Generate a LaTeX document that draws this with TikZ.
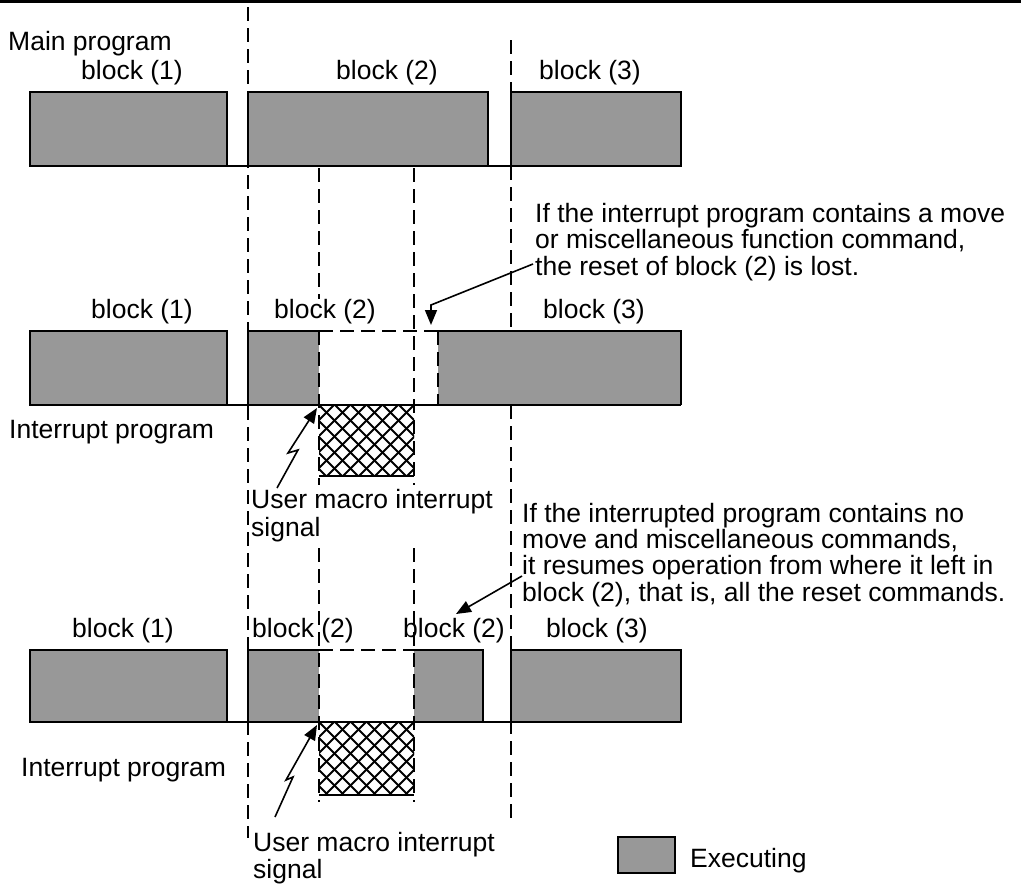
\documentclass[tikz,border=0pt]{standalone}
\usepackage{fontspec}
\setmainfont{Liberation Sans}
\usetikzlibrary{arrows.meta}
\definecolor{execgray}{RGB}{152,152,152}
\tikzset{
  lbl/.style={font=\fontsize{26.5}{26.5}\selectfont, inner sep=0pt, anchor=base},
  lblw/.style={lbl, anchor=base west, align=left},
  dsh/.style={line width=1.8pt, dash pattern=on 14pt off 7pt},
  edgeline/.style={line width=1.6pt},
  baseln/.style={line width=2pt},
  execfill/.style={fill=execgray},
  arr/.style={line width=1.6pt, -{Triangle[length=15pt,width=12pt]}},
}
\newcommand\myxhatch[4]{%
  \begin{scope}
    \clip (#1,#2) rectangle (#3,#4);
    \fill[white] (#1,#2) rectangle (#3,#4);
    \foreach \k in {-8,...,8}{
      \draw[line width=1.8pt] ({#1+\k*16},#2) -- ({#1+\k*16+120},{#2+120});
      \draw[line width=1.8pt] ({#3-\k*16},#2) -- ({#3-\k*16-120},{#2+120});
    }
  \end{scope}}
\begin{document}
\begin{tikzpicture}[x=1pt,y=-1pt]
\useasboundingbox (0,0) rectangle (1021,886);
% top rule
\draw[line width=3pt] (0,1.5) -- (1021,1.5);

% ---- grey (executing) fills ----
\fill[execfill] (30,92) rectangle (227,166);
\fill[execfill] (248,92) rectangle (488,166);
\fill[execfill] (511,92) rectangle (681,166);
\fill[execfill] (30,331) rectangle (227,405);
\fill[execfill] (248,331) rectangle (319,405);
\fill[execfill] (438,331) rectangle (681,405);
\fill[execfill] (30,650) rectangle (227,722);
\fill[execfill] (248,650) rectangle (319,722);
\fill[execfill] (414,650) rectangle (483,722);
\fill[execfill] (511,650) rectangle (681,722);

% ---- interrupt program (cross-hatched) ----
\myxhatch{319}{405}{414}{476}
\myxhatch{319}{722}{414}{795}

% ---- dashed lines ----
\draw[dsh] (248,7) -- (248,838);
\draw[dsh] (511,40) -- (511,331);
\draw[dsh] (511,405) -- (511,823);
\draw[dsh] (319,168) -- (319,299);
\draw[dsh] (319,331) -- (319,485);
\draw[dsh] (414,168) -- (414,485);
\draw[dsh] (319,331) -- (438,331);
\draw[dsh] (438,331) -- (438,405);
\draw[dsh] (319,548) -- (319,802);
\draw[dsh] (414,548) -- (414,802);
\draw[dsh] (319,650) -- (414,650);

% ---- solid outlines ----
\draw[edgeline] (30,92) rectangle (227,166);
\draw[edgeline] (248,92) rectangle (488,166);
\draw[edgeline] (511,92) rectangle (681,166);
\draw[edgeline] (30,331) rectangle (227,405);
\draw[edgeline] (319,331) -- (248,331) -- (248,405);
\draw[edgeline] (438,331) -- (681,331) -- (681,405);
\draw[edgeline] (30,650) rectangle (227,722);
\draw[edgeline] (319,650) -- (248,650) -- (248,722);
\draw[edgeline] (414,650) -- (483,650) -- (483,722);
\draw[edgeline] (511,650) rectangle (681,722);
\draw[edgeline] (319,476) -- (414,476);
\draw[edgeline] (319,795) -- (414,795);
\draw[baseln] (30,166) -- (681,166);
\draw[baseln] (30,405) -- (681,405);
\draw[baseln] (30,722) -- (681,722);

% ---- legend ----
\draw[edgeline, execfill] (618,837) rectangle (675,873);
\node[lblw] (exec) at (690,867) {Executing};

% ---- labels ----
\node[lblw] (mainp) at (8,50) {Main program};
\node[lbl] (r1b1) at (132,79) {block (1)};
\node[lbl] (r1b2) at (387,79) {block (2)};
\node[lbl] (r1b3) at (590,79) {block (3)};
\node[lbl] (r2b1) at (142,318) {block (1)};
\node[lbl] (r2b2) at (325,318) {block (2)};
\node[lbl] (r2b3) at (594,318) {block (3)};
\node[lbl] (r3b1) at (123,637) {block (1)};
\node[lbl] (r3b2a) at (303,637) {block (2)};
\node[lbl] (r3b2b) at (454,637) {block (2)};
\node[lbl] (r3b3) at (597,637) {block (3)};
\node[lblw] (ip2) at (9,438) {Interrupt program};
\node[lblw] (ip3) at (21,776) {Interrupt program};
% multi-line nodes: base anchor = baseline of the last line
\node[lblw, font=\fontsize{26.5}{28}\selectfont] (um2) at (251,536) {User macro interrupt\\signal};
\node[lblw, font=\fontsize{26.5}{27}\selectfont] (um3) at (253,878) {User macro interrupt\\signal};
\node[lblw] (note2) at (535,275) {If the interrupt program contains a move\\or miscellaneous function command,\\the reset of block (2) is lost.};
\node[lblw, font=\fontsize{26.5}{26.3}\selectfont] (note3) at (522,601) {If the interrupted program contains no\\move and miscellaneous commands,\\it resumes operation from where it left in\\block (2), that is, all the reset commands.};

% ---- arrows ----
\coordinate (n2s) at (533,264);
\coordinate (n2b) at (431,305);
\coordinate (n2t) at (431,325);
\draw[arr] (n2s) -- (n2b) -- (n2t);
\coordinate (n3s) at (522,576);
\coordinate (n3t) at (456,614);
\draw[arr] (n3s) -- (n3t);
\coordinate (l2a) at (277,488);
\coordinate (l2b) at (298,450);
\coordinate (l2c) at (288,453);
\coordinate (l2t) at (317,408);
\draw[arr] (l2a) -- (l2b) -- (l2c) -- (l2t);
\coordinate (l3a) at (275,817);
\coordinate (l3b) at (293,777);
\coordinate (l3c) at (286,780);
\coordinate (l3t) at (317,725);
\draw[arr] (l3a) -- (l3b) -- (l3c) -- (l3t);
\end{tikzpicture}
\end{document}
